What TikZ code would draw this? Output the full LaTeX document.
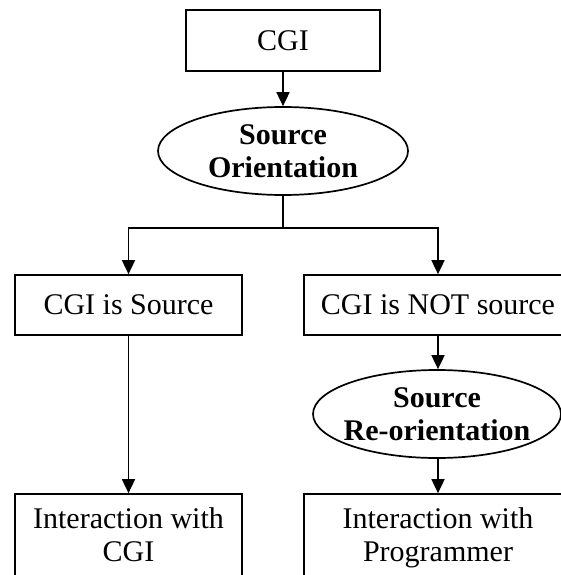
\documentclass[tikz,border=0pt]{standalone}
\usepackage{fontspec}
\setmainfont{Liberation Serif}
\usetikzlibrary{shapes.geometric,arrows.meta}

\begin{document}
\begin{tikzpicture}[
    x = 1pt, y = -1pt,
    every node/.style = {font = \fontsize{30}{33}\selectfont, align = center, inner sep = 0pt},
    box/.style = {draw, line width = 1.7pt, rectangle},
    oval/.style = {draw, line width = 1.7pt, ellipse},
    ovaltext/.style = {font = \fontsize{30}{33}\selectfont\bfseries},
    flow/.style = {line width = 1.7pt, -{Triangle[length=14pt, width=13pt]}}]

\useasboundingbox (0,0) rectangle (561,575);

\node[box, minimum width=194pt, minimum height=61pt] (cgi) at (283,40.5) {CGI};
\node[oval, minimum width=250pt, minimum height=88pt,
      label={[ovaltext]center:Source\\Orientation}] (orient) at (283,151) {};
\node[box, minimum width=227pt, minimum height=60pt] (src) at (128.5,305) {CGI is Source};
\node[box, minimum width=268pt, minimum height=60pt] (notsrc) at (438,305) {CGI is NOT source};
\node[oval, minimum width=248pt, minimum height=88pt,
      label={[ovaltext]center:Source\\Re-orientation}] (reorient) at (437,414) {};
\node[box, minimum width=227pt, minimum height=92pt] (intcgi) at (128.5,540) {Interaction with\\CGI\strut};
\node[box, minimum width=268pt, minimum height=92pt] (intprog) at (438,540) {Interaction with\\Programmer\strut};
\coordinate (split) at (283,228);

\draw[flow] (cgi) -- (orient);
\draw[line width = 1.7pt] (orient) -- (split);
\draw[flow] (split) -| (src);
\draw[flow] (split) -| (notsrc);
\draw[flow] (src) -- (intcgi);
\draw[flow] (notsrc) -- (notsrc |- reorient.north);
\draw[flow] (reorient.south -| intprog) -- (intprog);
\end{tikzpicture}
\end{document}
